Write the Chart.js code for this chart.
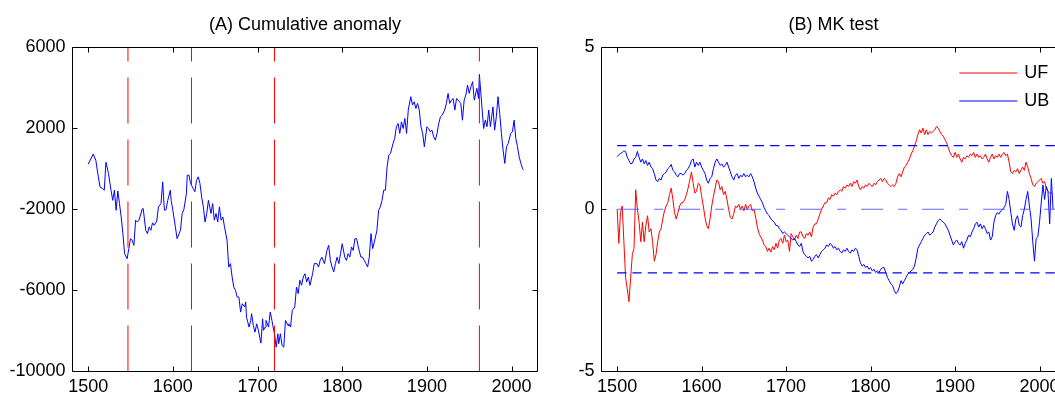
<!DOCTYPE html>
<html>
<head>
<meta charset="utf-8">
<title>Cumulative anomaly and MK test</title>
<script src="https://cdn.jsdelivr.net/npm/chart.js@4.4.1/dist/chart.umd.min.js"></script>
<style>
  html, body { margin: 0; padding: 0; background: #fff; overflow: hidden; }
  body { width: 1055px; height: 394px; position: relative; }
  canvas { position: absolute; top: 0; }
  #chartA { left: 0; }
  #chartB { left: 544px; }
</style>
</head>
<body>
<canvas id="chartA" width="546" height="394"></canvas>
<canvas id="chartB" width="531" height="394"></canvas>
<script>
// (A) cumulative anomaly
const anomYears = [1500,1506,1509,1512,1514,1517,1519,1521,1524,1527,1529,1531,1533,1535,1537,1539,1541,1543,1546,1548,
  1550,1552,1554,1556,1558,1560,1564,1565,1568,1570,1572,1574,1576,1578,1581,1583,1586,1588,1590,1592,
  1594,1597,1598,1600,1603,1605,1609,1611,1613,1616,1617,1619,1621,1624,1626,1628,1630,1632,1634,1636,
  1638,1640,1642,1645,1647,1649,1651,1653,1655,1657,1659,1661,1664,1666,1668,1670,1672,1674,1676,1678,
  1680,1682,1685,1686,1687,1690,1692,1693,1695,1697,1699,1701,1704,1706,1707,1709,1710,1713,1715,1717,
  1718,1720,1722,1724,1725,1727,1729,1731,1733,1736,1737,1739,1741,1744,1746,1748,1750,1752,1754,1756,
  1758,1760,1762,1765,1767,1770,1772,1774,1776,1779,1782,1784,1786,1788,1790,1792,1794,1796,1798,1800,
  1803,1805,1807,1809,1811,1813,1815,1817,1819,1822,1824,1826,1828,1830,1832,1834,1836,1838,1841,1843,
  1845,1847,1849,1851,1853,1855,1857,1860,1862,1864,1866,1868,1870,1872,1874,1876,1878,1881,1883,1885,
  1887,1889,1891,1893,1895,1897,1900,1902,1904,1906,1908,1910,1912,1914,1916,1918,1921,1923,1925,1927,
  1929,1931,1933,1935,1937,1940,1942,1944,1946,1948,1950,1952,1954,1956,1959,1961,1962,1963,1965,1967,
  1969,1971,1973,1975,1978,1980,1982,1984,1986,1988,1990,1992,1994,1996,1999,2001,2003,2005,2007,2009,
  2011,2013,2014];
const anomValues = [220,720,420,-400,-900,-980,-1060,320,-240,-1060,-1560,-1060,-2050,-1100,-1720,-2380,-3200,-4190,-4440,-3940,
  -3450,-3530,-3780,-2540,-2630,-2540,-1970,-1970,-3040,-3200,-2870,-3040,-2670,-2790,-2580,-1880,-1720,-650,-2050,-2020,
  -1560,-1060,-1560,-2050,-2870,-3450,-3040,-2210,-2020,-1230,-320,-320,-730,-980,-1140,-570,-400,-730,-1390,-1880,
  -2630,-2210,-1560,-2210,-1720,-2540,-2210,-2630,-1880,-2540,-2380,-2870,-3530,-4850,-4680,-5340,-5840,-6000,-6330,-6330,
  -7070,-6660,-6820,-6570,-7320,-7810,-7480,-7150,-7730,-8060,-7650,-7970,-8600,-7400,-7970,-7810,-7480,-7810,-7070,-7480,
  -7730,-8140,-8800,-8140,-8630,-8140,-8720,-8800,-7480,-7730,-7650,-7810,-6990,-6820,-5840,-6160,-5500,-5750,-5340,-5180,
  -5590,-5340,-5750,-5180,-4680,-4680,-4850,-4520,-4360,-4680,-4030,-3780,-4520,-4850,-5090,-4680,-4360,-4680,-4190,-3700,
  -4360,-4520,-4190,-4360,-3860,-4030,-3450,-3450,-3860,-4360,-4360,-4520,-4680,-4850,-4360,-3200,-3940,-3610,-3040,-2050,
  -1880,-1560,-1060,-1060,90,670,750,1240,1490,2070,2230,1740,2310,1980,2480,1740,2890,3550,3140,3300,
  2970,3220,2890,2070,1740,1080,2070,1980,1820,1900,1570,1410,1740,2230,2560,2640,2890,3220,3710,3220,
  3380,3460,2890,3460,3380,3220,2390,3380,3630,4120,3710,4040,4290,3380,3960,3460,4650,4120,3050,1980,
  2400,2070,2890,2070,3050,1900,2560,3550,2720,1740,910,260,1080,1240,1740,1820,2390,1490,1080,580,
  260,0,-60];
const changeYears = [1547, 1622, 1720, 1962];

// (B) MK test statistics, one value every 2 years from 1500
const mkStartYear = 1500;
const mkStep = 2;
const ufValues = [0.0,-1.05,-0.1,0.1,-1.0,-2.1,-2.45,-2.85,-2.1,-1.4,
  -1.2,0.6,0.0,-0.4,-1.0,-0.4,-1.0,-0.5,-0.2,-0.7,
  -0.6,-1.0,-1.6,-1.4,-1.0,-0.7,-0.6,-0.3,-0.05,0.1,
  0.2,0.45,0.65,0.3,-0.1,-0.3,-0.1,0.1,0.2,0.2,
  0.3,0.45,0.65,0.9,1.15,0.8,0.5,0.55,0.8,0.75,
  0.4,0.1,-0.25,-0.5,-0.6,-0.3,0.1,0.4,0.65,0.9,
  0.85,0.6,0.7,0.45,0.55,0.3,0.0,-0.25,-0.3,-0.15,
  0.1,0.05,0.15,0.0,0.1,-0.05,0.15,0.0,0.1,0.15,
  -0.05,0.0,-0.25,-0.55,-0.75,-0.85,-0.95,-1.1,-1.15,-1.3,
  -1.2,-1.32,-1.15,-1.25,-1.05,-1.2,-0.95,-0.9,-1.05,-0.8,
  -1.0,-0.95,-1.3,-0.75,-0.85,-0.95,-0.8,-0.9,-0.7,-0.7,
  -0.85,-0.9,-0.75,-0.8,-0.7,-0.85,-0.55,-0.45,-0.45,-0.3,
  -0.15,0.0,0.1,0.2,0.2,0.35,0.3,0.45,0.4,0.5,
  0.45,0.55,0.6,0.55,0.7,0.65,0.75,0.7,0.8,0.7,
  0.85,0.8,0.9,0.7,0.6,0.7,0.65,0.75,0.7,0.8,
  0.75,0.7,0.8,0.75,0.85,0.9,0.95,0.85,0.95,0.9,
  0.8,0.75,0.7,0.75,0.7,0.8,1.0,1.1,1.0,1.15,
  1.3,1.35,1.45,1.55,1.7,1.8,1.95,2.1,2.3,2.45,
  2.35,2.5,2.3,2.45,2.3,2.4,2.35,2.4,2.45,2.55,
  2.5,2.4,2.3,2.25,2.15,2.05,1.9,1.75,1.65,1.6,
  1.75,1.6,1.7,1.55,1.45,1.6,1.55,1.65,1.6,1.7,
  1.65,1.75,1.6,1.7,1.6,1.65,1.55,1.6,1.7,1.55,
  1.45,1.6,1.7,1.55,1.65,1.6,1.7,1.6,1.7,1.75,
  1.65,1.7,1.45,1.15,1.1,1.2,1.15,1.25,1.1,1.2,
  1.3,1.2,1.45,1.3,1.1,0.95,0.75,0.7,0.8,0.85,
  0.9,0.95,0.8,0.85,0.65,0.55,0.5,0.5,0.45];
const ubValues = [1.62,1.68,1.72,1.75,1.8,1.78,1.6,1.5,1.4,1.42,
  1.55,1.6,1.78,1.6,1.45,1.55,1.4,1.5,1.35,1.45,
  1.3,1.25,1.1,0.9,0.85,0.95,0.9,1.05,1.1,1.15,
  1.25,1.3,1.38,1.2,1.15,1.05,1.0,1.1,1.1,1.05,
  1.1,1.2,1.25,1.35,1.5,1.55,1.3,1.45,1.35,1.45,
  1.3,1.2,1.1,0.9,0.8,0.95,1.0,1.25,1.45,1.55,
  1.45,1.35,1.4,1.3,1.35,1.45,1.3,1.15,1.0,0.9,
  1.05,1.1,0.95,1.05,1.0,1.1,1.0,1.05,1.0,1.1,
  1.0,0.85,0.65,0.5,0.4,0.3,0.2,0.05,-0.05,-0.15,
  -0.2,-0.3,-0.35,-0.4,-0.5,-0.5,-0.6,-0.65,-0.75,-0.7,
  -0.75,-0.8,-0.85,-0.9,-0.95,-0.9,-1.0,-1.1,-1.15,-1.05,
  -1.3,-1.4,-1.45,-1.5,-1.45,-1.6,-1.55,-1.45,-1.4,-1.5,
  -1.4,-1.3,-1.25,-1.2,-1.1,-1.15,-1.05,-1.1,-1.2,-1.15,
  -1.25,-1.2,-1.3,-1.35,-1.25,-1.3,-1.2,-1.3,-1.35,-1.25,
  -1.3,-1.2,-1.25,-1.45,-1.65,-1.75,-1.7,-1.8,-1.75,-1.85,
  -1.8,-1.9,-1.85,-1.95,-1.9,-1.95,-1.85,-1.8,-1.8,-1.95,
  -2.1,-2.2,-2.3,-2.35,-2.5,-2.6,-2.55,-2.4,-2.2,-2.3,
  -2.2,-2.1,-2.0,-1.95,-1.9,-1.85,-1.75,-1.5,-1.2,-1.1,
  -1.0,-0.9,-0.8,-0.75,-0.7,-0.8,-0.75,-0.7,-0.55,-0.45,
  -0.35,-0.3,-0.35,-0.4,-0.45,-0.55,-0.65,-0.8,-0.95,-1.1,
  -1.0,-0.95,-1.05,-1.1,-1.0,-1.2,-1.05,-0.95,-0.8,-0.85,
  -0.7,-0.6,-0.45,-0.4,-0.55,-0.45,-0.6,-0.5,-0.6,-0.75,
  -0.7,-0.95,-0.85,-0.4,-0.2,-0.1,-0.15,-0.05,0.0,0.05,
  0.15,0.55,0.3,-0.1,-0.45,-0.65,-0.3,-0.2,-0.5,-0.55,
  -0.2,0.0,0.3,0.55,0.1,-0.3,-1.0,-1.6,-0.9,-0.85,
  -0.4,0.2,0.75,0.3,0.7,0.55,-0.45,0.95,0.0];
const critLevels = [1.96, -1.96];
const refYears = [1500, 2030];

// axes
const yearRange = [1481.5, 2030.5];
const yearTicks = [1500, 1600, 1700, 1800, 1900, 2000];
const anomRange = [-10000, 6000];
const anomTicks = [-10000, -6000, -2000, 2000, 6000];
const mkRange = [-5, 5];
const mkTicks = [-5, 0, 5];

const FONT = '"Liberation Sans", Arial, Helvetica, sans-serif';
Chart.defaults.font.family = FONT;
Chart.defaults.font.size = 18;
Chart.defaults.color = '#000';

const mkYears = ufValues.map((_, i) => mkStartYear + i * mkStep);
const toPoints = (xs, ys) => xs.map((x, i) => ({ x: x, y: ys[i] }));

// MATLAB style box with inward ticks, plus title and legend
const matlabAxes = {
  id: 'matlabAxes',
  afterDraw(chart, args, opts) {
    const { ctx, chartArea: a, scales } = chart;
    const x0 = Math.floor(a.left) + 0.5, x1 = Math.floor(a.right) + 0.5;
    const y0 = Math.floor(a.top) + 0.5, y1 = Math.floor(a.bottom) + 0.5;
    ctx.save();
    ctx.strokeStyle = '#000';
    ctx.lineWidth = 1;
    ctx.setLineDash([]);
    ctx.beginPath();
    ctx.rect(x0, y0, x1 - x0, y1 - y0);
    scales.x.ticks.forEach(t => {
      const px = Math.round(scales.x.getPixelForValue(t.value)) + 0.5;
      ctx.moveTo(px, y1); ctx.lineTo(px, y1 - 5);
      ctx.moveTo(px, y0); ctx.lineTo(px, y0 + 5);
    });
    scales.y.ticks.forEach(t => {
      const py = Math.floor(scales.y.getPixelForValue(t.value)) + 0.5;
      ctx.moveTo(x0, py); ctx.lineTo(x0 + 5, py);
      ctx.moveTo(x1, py); ctx.lineTo(x1 - 5, py);
    });
    ctx.stroke();

    ctx.fillStyle = '#000';
    ctx.font = '18px ' + FONT;
    ctx.textAlign = 'center';
    ctx.textBaseline = 'middle';
    ctx.fillText(opts.title, (a.left + a.right) / 2, 25);

    (opts.legend || []).forEach((label, i) => {
      const ds = chart.data.datasets.find(d => d.label === label);
      const y = a.top + 26 + i * 27.7;
      ctx.strokeStyle = ds.borderColor;
      ctx.beginPath();
      ctx.moveTo(a.right - 106, Math.round(y));
      ctx.lineTo(a.right - 48, Math.round(y));
      ctx.stroke();
      ctx.textAlign = 'left';
      ctx.fillText(label, a.right - 41, y);
    });
    ctx.restore();
  }
};

function makeScales(range, ticks, yWidth) {
  return {
    x: {
      type: 'linear', min: yearRange[0], max: yearRange[1],
      grid: { display: false, drawTicks: false }, border: { display: false },
      afterBuildTicks: s => { s.ticks = yearTicks.map(v => ({ value: v })); },
      afterFit: s => { s.height = 22.5; },
      ticks: { padding: 5, maxRotation: 0, autoSkip: false, callback: v => String(v) }
    },
    y: {
      type: 'linear', min: range[0], max: range[1],
      grid: { display: false, drawTicks: false }, border: { display: false },
      afterBuildTicks: s => { s.ticks = ticks.map(v => ({ value: v })); },
      afterFit: s => { s.width = yWidth; },
      ticks: { padding: 7, callback: v => String(v) }
    }
  };
}

const baseOptions = {
  responsive: false,
  animation: false,
  devicePixelRatio: 1,
  elements: { line: { tension: 0, borderWidth: 1, fill: false }, point: { radius: 0 } }
};

// (A) Cumulative anomaly
new Chart(document.getElementById('chartA'), {
  type: 'line',
  data: {
    datasets: [
      ...changeYears.map(yr => ({
        label: 'change ' + yr,
        data: [{ x: yr, y: anomRange[0] }, { x: yr, y: anomRange[1] }],
        borderColor: '#ff0000', borderWidth: 1, borderDash: [46, 16], order: 0
      })),
      { label: 'Cumulative anomaly', data: toPoints(anomYears, anomValues), borderColor: '#0000ff', order: 1 }
    ]
  },
  options: {
    ...baseOptions,
    layout: { padding: { top: 47, right: 8.6, left: 0, bottom: 0 } },
    scales: makeScales(anomRange, anomTicks, 72.5),
    plugins: {
      legend: { display: false },
      tooltip: { enabled: false },
      matlabAxes: { title: '(A) Cumulative anomaly' }
    }
  },
  plugins: [matlabAxes]
});

// (B) MK test
new Chart(document.getElementById('chartB'), {
  type: 'line',
  data: {
    datasets: [
      { label: 'zero', data: refYears.map(x => ({ x: x, y: 0 })),
        borderColor: 'rgba(70,80,255,0.85)', borderWidth: 1.2, borderDash: [22, 15, 9, 15], order: 0 },
      ...critLevels.map(v => ({
        label: 'crit ' + v, data: refYears.map(x => ({ x: x, y: v })),
        borderColor: '#0000ff', borderWidth: 1.2, borderDash: [9.3, 6], order: 1
      })),
      { label: 'UB', data: toPoints(mkYears, ubValues), borderColor: '#0000ff', order: 2 },
      { label: 'UF', data: toPoints(mkYears, ufValues), borderColor: '#ff0000', order: 3 }
    ]
  },
  options: {
    ...baseOptions,
    layout: { padding: { top: 47, right: 9.7, left: 0, bottom: 0 } },
    scales: makeScales(mkRange, mkTicks, 57.5),
    plugins: {
      legend: { display: false },
      tooltip: { enabled: false },
      matlabAxes: { title: '(B) MK test', legend: ['UF', 'UB'] }
    }
  },
  plugins: [matlabAxes]
});
</script>
</body>
</html>
